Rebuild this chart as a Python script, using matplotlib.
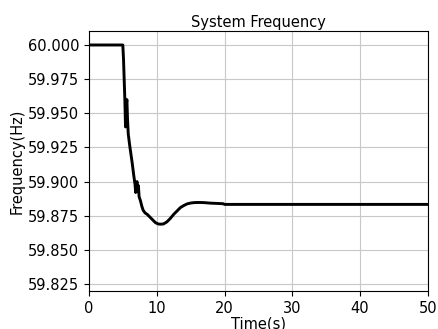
import numpy as np
import matplotlib
matplotlib.use("Agg")
import matplotlib.pyplot as plt

# time (s) and frequency (Hz)
t = [0, 5.0, 5.1, 5.2, 5.3, 5.4, 5.5, 5.6, 5.7, 5.8, 6.0, 6.2, 6.4, 6.6, 6.8,
     6.9, 7.0, 7.1, 7.2, 7.3, 7.4, 7.6, 7.8, 8.0, 8.3, 8.6, 9.0, 9.4, 9.8,
     10.2, 10.6, 11.0, 11.5, 12.0, 12.5, 13.0, 13.5, 14.0, 14.5, 15.0, 15.5,
     16.0, 16.5, 17.0, 17.5, 18.0, 19.0, 19.8, 20.0, 50]
freq = [60.000, 60.000, 59.990, 59.975, 59.960, 59.940, 59.955, 59.960, 59.945,
        59.935, 59.927, 59.920, 59.913, 59.905, 59.898, 59.892, 59.898, 59.900,
        59.893, 59.897, 59.889, 59.886, 59.882, 59.879, 59.877, 59.876, 59.874,
        59.872, 59.870, 59.869, 59.8688, 59.869, 59.8705, 59.873, 59.876,
        59.8785, 59.881, 59.8825, 59.8837, 59.8843, 59.8846, 59.8847, 59.8847,
        59.8846, 59.8844, 59.8842, 59.8840, 59.8838, 59.8833, 59.8833]

fig = plt.figure(figsize=(4.38, 3.29), dpi=100)
ax = fig.add_axes([0.203, 0.1155, 0.774, 0.7905])
ax.plot(t, freq, color='black', linewidth=2.1)
ax.set_xlim(0, 50)
ax.set_ylim(59.8199, 60.0103)
ax.set_yticks(np.arange(59.825, 60.0001, 0.025))
ax.yaxis.set_major_formatter(matplotlib.ticker.FormatStrFormatter('%.3f'))
ax.tick_params(labelsize=10.5)
ax.set_xlabel('Time(s)', fontsize=10.5, labelpad=0.5)
ax.set_ylabel('Frequency(Hz)', fontsize=10.5, labelpad=2)
ax.set_title('System Frequency', fontsize=10.5, pad=3)
ax.grid(True, color='#c8c8c8', linewidth=0.8)
fig.savefig('out.png', dpi=100)
